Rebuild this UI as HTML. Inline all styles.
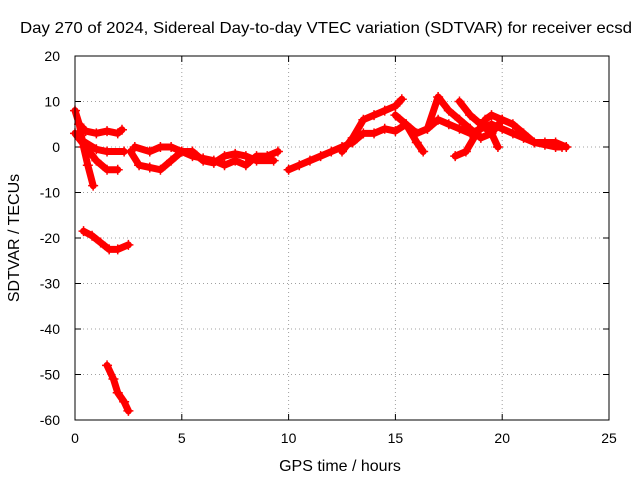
<!DOCTYPE html>
<html><head><meta charset="utf-8"><style>
body{margin:0;background:#fff;}
svg text{font-family:"Liberation Sans",sans-serif;font-size:14px;fill:#000;}
svg text.big{font-size:16px;}
</style></head><body>
<svg width="640" height="480" xmlns="http://www.w3.org/2000/svg">
<rect width="640" height="480" fill="#fff"/>
<text class="big" x="20" y="33" textLength="612" lengthAdjust="spacingAndGlyphs">Day 270 of 2024, Sidereal Day-to-day VTEC variation (SDTVAR) for receiver ecsd</text>
<g id="grid"></g>
<g id="axes"></g>
<g id="series"></g>
<rect x="75" y="56" width="534" height="364" fill="none" stroke="#000" stroke-width="1"/>
<text class="big" transform="translate(19,238) rotate(-90)" text-anchor="middle">SDTVAR / TECUs</text>
<text class="big" x="340" y="471" text-anchor="middle">GPS time / hours</text>
</svg>
<script>
const xTicks=[0,5,10,15,20,25];
const yTicks=[20,10,0,-10,-20,-30,-40,-50,-60];
const trackA=[[0,8],[0.2,5],[0.4,0],[0.6,-4],[0.85,-8.5]];
const trackB=[[0,3],[0.5,0],[1,-3],[1.5,-5],[2,-5]];
const trackC=[[0.2,5],[0.5,3.5],[1,3],[1.5,3.5],[2,3],[2.2,3.8]];
const trackD=[[0.3,1.5],[1,-0.5],[1.5,-1],[2.3,-1]];
const trackE=[[0.4,-18.5],[0.8,-19.5],[1.2,-21],[1.6,-22.5],[2,-22.5],[2.5,-21.5]];
const trackF=[[1.5,-48],[1.8,-51],[2,-54],[2.3,-56],[2.5,-58]];
const trackG=[[2.6,-1],[3,-4],[3.5,-4.5],[4,-5],[4.5,-3],[5,-1],[5.5,-2],[6,-2.5],[6.5,-3],[7,-4],[7.5,-3],[8,-4],[8.5,-2],[9,-2],[9.5,-1]];
const trackH=[[2.8,0],[3.5,-1],[4,0],[4.5,0],[5,-1],[5.5,-1],[6,-3],[6.5,-3.5],[7,-2],[7.5,-1.5],[8,-2],[8.5,-3],[9.3,-3]];
const trackI=[[10,-5],[10.5,-4],[11,-3],[11.5,-2],[12,-1],[12.5,0],[13,1],[13.5,3],[14,3],[14.5,4],[15,3.5],[15.5,5],[16,3],[16.5,4],[17,6],[17.5,5],[18,4],[18.5,3],[19,4],[19.5,5],[20,4],[20.5,3],[21,2],[21.5,1],[22,0.5],[22.5,0],[22.8,0]];
const trackJ=[[12.5,-1],[13,2],[13.5,6],[14,7],[14.5,8],[15,9],[15.3,10.5]];
const trackK=[[15,7],[15.5,5],[16,1],[16.3,-1]];
const trackL=[[16.5,4],[17,11],[17.5,8],[18,6],[18.5,4],[19,2],[19.5,3],[20,6],[20.5,5],[21,3],[21.5,1],[22,1],[22.5,1],[23,0]];
const trackM=[[17.8,-2],[18.3,-1],[18.8,3],[19.2,6],[19.5,7],[20,6]];
const trackN=[[18,10],[18.5,7],[19,5],[19.5,3],[19.8,0]];
const tracks=[trackA,trackB,trackC,trackD,trackE,trackF,trackG,trackH,trackI,trackJ,trackK,trackL,trackM,trackN];
const NS="http://www.w3.org/2000/svg";
const L=75,R=609,T=56,B=420;
function xs(v){return L+(v-0)/(25-0)*(R-L);}
function ys(v){return B-(v+60)/(80)*(B-T);}
const grid=document.getElementById('grid'),axes=document.getElementById('axes'),ser=document.getElementById('series');
function mk(tag,attrs,parent){const e=document.createElementNS(NS,tag);for(const k in attrs)e.setAttribute(k,attrs[k]);parent.appendChild(e);return e;}
xTicks.forEach(t=>{const x=xs(t);
 if(t>0&&t<25){const g=mk('line',{x1:x,x2:x,y1:T,y2:B,stroke:'#a0a0a0','stroke-dasharray':'1,3'},grid);
 
 }
 mk('line',{x1:x,x2:x,y1:B,y2:B-6,stroke:'#000'},axes);
 mk('line',{x1:x,x2:x,y1:T,y2:T+6,stroke:'#000'},axes);
 const tx=mk('text',{x:x,y:B+23,'text-anchor':'middle'},axes);tx.textContent=t;
 
 });
yTicks.forEach(t=>{const y=ys(t);
 if(t>-60&&t<20){const g=mk('line',{x1:L,x2:R,y1:y,y2:y,stroke:'#a0a0a0','stroke-dasharray':'1,3'},grid);
 
 }
 mk('line',{x1:L,x2:L+6,y1:y,y2:y,stroke:'#000'},axes);
 mk('line',{x1:R,x2:R-6,y1:y,y2:y,stroke:'#000'},axes);
 const tx=mk('text',{x:L-15,y:y+5,'text-anchor':'end'},axes);tx.textContent=t;
 
 });
tracks.forEach(tr=>{
 const d=tr.map((p,i)=>(i?'L':'M')+xs(p[0])+','+ys(p[1])).join(' ');
 const path=mk('path',{d:d,fill:'none',stroke:'#ff0000','stroke-width':7,'stroke-linejoin':'round','stroke-linecap':'round'},ser);
 
 
 tr.forEach(p=>{const x=xs(p[0]),y=ys(p[1]);
  const m=mk('path',{d:`M${x-5},${y}H${x+5}M${x},${y-5}V${y+5}`,stroke:'#ff0000','stroke-width':1.5},ser);
  
  });
});
</script>
</body></html>
